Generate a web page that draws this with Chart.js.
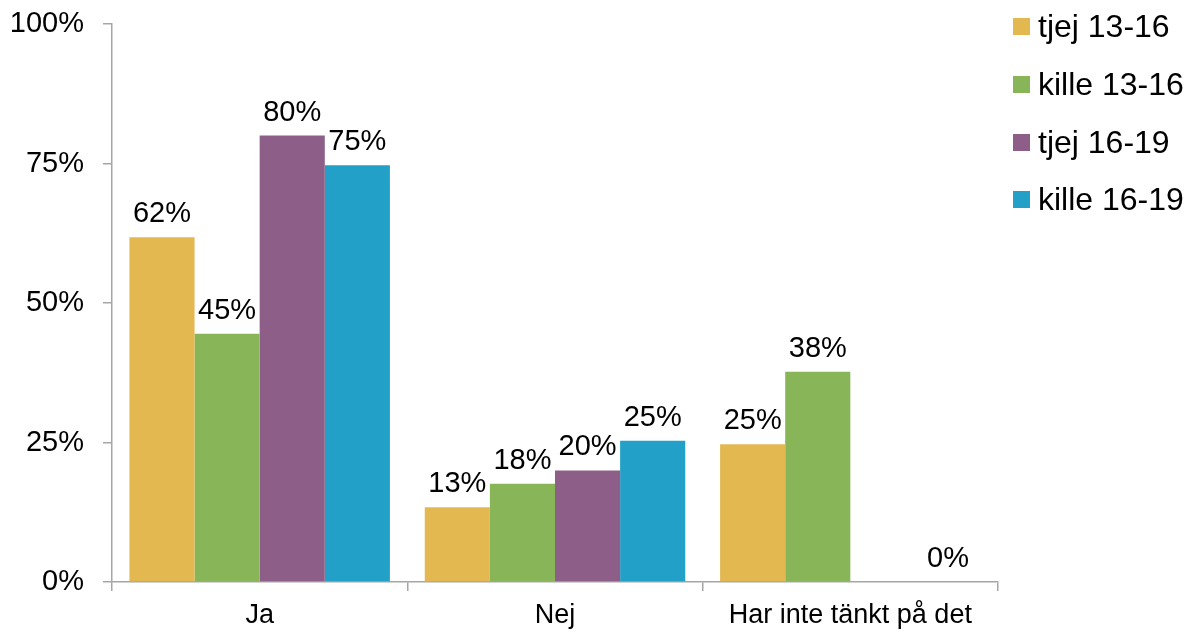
<!DOCTYPE html>
<html>
<head>
<meta charset="utf-8">
<script src="https://cdn.jsdelivr.net/npm/chart.js@4/dist/chart.umd.min.js"></script>
<style>
  html, body { margin: 0; padding: 0; background: #fff; }
  #wrap { position: relative; width: 1192px; height: 632px; }
  #legend { position: absolute; left: 1013px; top: 0; font-family: "Liberation Sans", Arial, sans-serif; font-size: 32px; color: #000; }
  .leg-item { position: absolute; left: 0; height: 30px; white-space: nowrap; }
  .leg-box { position: absolute; left: 0; top: 6px; width: 17px; height: 17px; }
  .leg-text { position: absolute; left: 25px; top: -4px; line-height: 36px; }
</style>
</head>
<body>
<div id="wrap">
  <canvas id="chart" width="1192" height="632"></canvas>
  <div id="legend"></div>
</div>
<script>
// Svarsalternativ och serier
const categories = ['Ja', 'Nej', 'Har inte tänkt på det'];
const seriesNames = ['tjej 13-16', 'kille 13-16', 'tjej 16-19', 'kille 16-19'];
const tjej1316 = [61.8, 13.4, 24.7];
const kille1316 = [44.5, 17.6, 37.7];
const tjej1619 = [80.0, 20.0, null];
const kille1619 = [74.7, 25.3, 0];
const colors = ['#E3B851', '#88B557', '#8D5F88', '#22A0C8'];
const yTicks = [0, 25, 50, 75, 100];

const FONT = '"Liberation Sans", Arial, sans-serif';
const AXIS = '#A6A6A6';

const allSeries = [tjej1316, kille1316, tjej1619, kille1619];

// Värdeetiketter ovanför staplarna
const valueLabels = {
  id: 'valueLabels',
  afterDatasetsDraw(chart) {
    const ctx = chart.ctx;
    ctx.save();
    ctx.font = '29px ' + FONT;
    ctx.fillStyle = '#000';
    ctx.textAlign = 'center';
    ctx.textBaseline = 'alphabetic';
    chart.data.datasets.forEach((ds, i) => {
      const meta = chart.getDatasetMeta(i);
      meta.data.forEach((bar, j) => {
        const v = ds.data[j];
        if (v === null || v === undefined) return;
        ctx.fillText(Math.round(v) + '%', bar.x, bar.y - 15);
      });
    });
    ctx.restore();
  }
};

new Chart(document.getElementById('chart'), {
  type: 'bar',
  data: {
    labels: categories,
    datasets: allSeries.map((data, i) => ({
      label: seriesNames[i],
      data,
      backgroundColor: colors[i],
      borderWidth: 0,
      categoryPercentage: 0.882,
      barPercentage: 1,
    })),
  },
  options: {
    responsive: false,
    animation: false,
    layout: { padding: { left: 12, right: 194, top: 24, bottom: 2 } },
    plugins: {
      legend: { display: false },
      tooltip: { enabled: false },
    },
    scales: {
      y: {
        min: 0,
        max: 100,
        afterBuildTicks: axis => { axis.ticks = yTicks.map(v => ({ value: v })); },
        afterFit: axis => {
          axis.width = 100;
          axis.paddingTop = 0;
          axis.paddingBottom = 0;
        },
        ticks: {
          callback: v => v + '%',
          color: '#000',
          font: { family: FONT, size: 29 },
          padding: 19,
        },
        grid: { drawOnChartArea: false, drawTicks: true, tickLength: 9, color: AXIS, lineWidth: 1.5 },
        border: { color: AXIS, width: 1.5 },
      },
      x: {
        afterFit: axis => { axis.height = 48; },
        ticks: {
          color: '#000',
          font: { family: FONT, size: 27 },
          padding: 8,
        },
        grid: { drawOnChartArea: false, drawTicks: true, tickLength: 9, color: AXIS, lineWidth: 1.5, offset: true },
        border: { color: AXIS, width: 1.5 },
      },
    },
  },
  plugins: [valueLabels],
});

// Förklaring till höger
const legendEl = document.getElementById('legend');
const legendTops = [12, 70, 128, 185];
seriesNames.forEach((name, i) => {
  const item = document.createElement('div');
  item.className = 'leg-item';
  item.style.top = legendTops[i] + 'px';
  item.innerHTML = `<span class="leg-box" style="background:${colors[i]}"></span><span class="leg-text">${name}</span>`;
  legendEl.appendChild(item);
});
</script>
</body>
</html>
